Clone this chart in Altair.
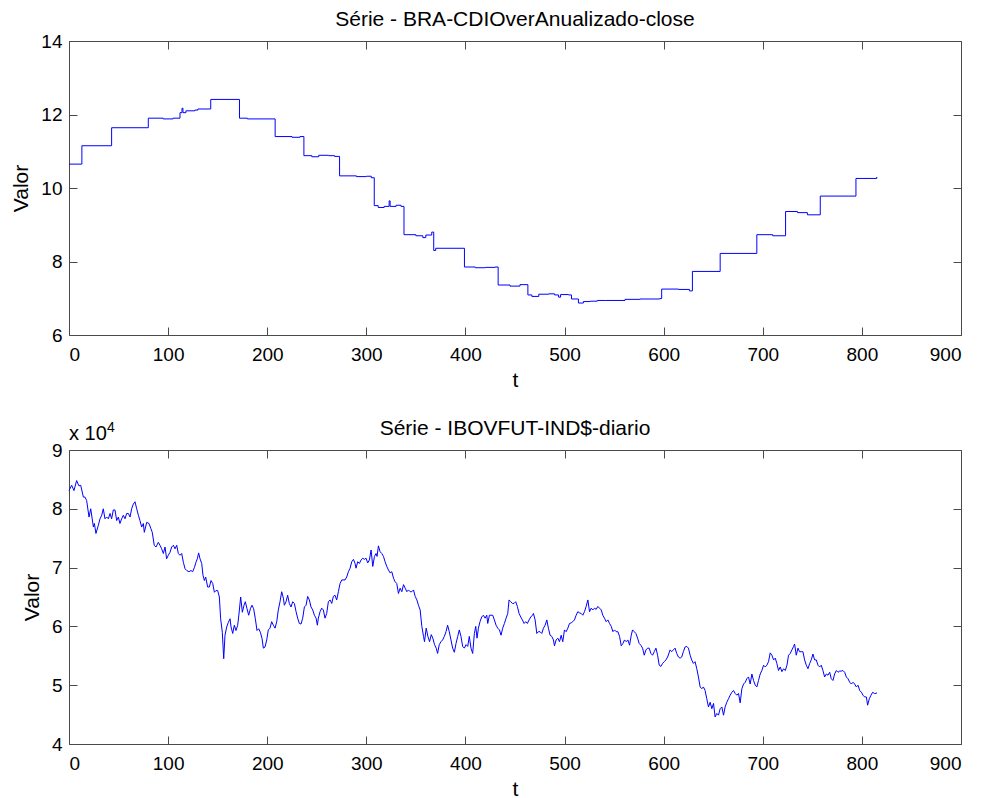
import altair as alt
import pandas as pd

# ---- data ----
# Top panel: BRA-CDIOverAnualizado-close, value changes (t, value), drawn as steps
cdi_points = [
    (0, 10.65), (13, 11.15), (43, 11.64), (80, 11.90), (95, 11.88), (105, 11.90),
    (112, 12.05), (114, 12.17), (115, 12.05), (118, 12.10), (127, 12.12), (130, 12.15),
    (143, 12.41), (172, 11.90), (180, 11.88), (208, 11.40), (225, 11.38), (233, 11.40),
    (237, 10.88), (245, 10.85), (252, 10.89), (262, 10.88), (268, 10.86), (273, 10.33),
    (290, 10.31), (300, 10.32), (305, 10.28), (308, 9.52), (312, 9.47), (318, 9.50),
    (323, 9.65), (324, 9.50), (330, 9.53), (335, 9.50), (338, 8.73), (350, 8.70),
    (357, 8.65), (360, 8.72), (366, 8.80), (368, 8.30), (370, 8.36), (399, 7.85),
    (410, 7.83), (420, 7.84), (430, 7.85), (433, 7.36), (445, 7.33), (455, 7.37),
    (463, 7.09), (467, 7.05), (474, 7.11), (484, 7.12), (490, 7.09), (494, 7.03),
    (496, 7.10), (504, 7.09), (507, 6.98), (514, 6.87), (519, 6.91), (526, 6.92),
    (533, 6.94), (541, 6.94), (561, 6.97), (576, 6.98), (596, 6.99), (598, 7.25),
    (615, 7.24), (626, 7.20), (629, 7.73), (657, 8.22), (694, 8.73), (710, 8.70),
    (723, 9.36), (735, 9.33), (745, 9.27), (758, 9.78), (794, 10.26), (815, 10.30),
]

# Bottom panel: IBOVFUT-IND$-diario, values in units of 10^4
ibov_points = [
    (0, 8.31), (2.7, 8.40), (5, 8.31), (7.7, 8.48), (10, 8.39), (11.8, 8.40), (14.5, 8.20),
    (16.1, 8.20), (17.8, 8.14), (20.2, 7.86), (21.9, 8.00), (24.6, 7.69), (25.6, 7.75),
    (27.2, 7.58), (29.6, 7.72), (31.3, 7.83), (33, 7.89), (34.6, 8.00), (36.3, 7.83),
    (38, 7.86), (39.7, 7.83), (41.4, 7.92), (43, 7.83), (44.7, 7.98), (46.4, 7.98),
    (48.1, 7.80), (49.8, 7.86), (51.4, 7.75), (53.1, 7.83), (54.8, 7.89), (56.5, 7.83),
    (58.2, 7.92), (59.9, 7.92), (61.6, 7.86), (63.2, 8.00), (64.9, 8.08), (66.6, 8.12),
    (68.3, 8.00), (70, 7.89), (71.6, 7.80), (73.3, 7.69), (75, 7.75), (76, 7.60),
    (78.4, 7.77), (80.7, 7.75), (82.7, 7.66), (84, 7.60), (86, 7.38), (87.8, 7.35),
    (90.1, 7.43), (91.8, 7.38), (93.5, 7.32), (95.2, 7.24), (96.9, 7.35), (98.5, 7.15),
    (100.2, 7.21), (101.9, 7.26), (103.6, 7.35), (105.3, 7.38), (107, 7.32), (108.7, 7.38),
    (110.3, 7.24), (112, 7.21), (113.7, 7.24), (115.4, 7.09), (117.1, 6.98), (118.8, 6.95),
    (121, 6.93), (123, 6.95), (124.8, 6.93), (126.5, 7.00), (128.1, 7.09), (129.5, 7.15),
    (130.8, 7.25), (132.2, 7.15), (133.9, 7.07), (135.2, 6.87), (136.6, 6.78), (137.9, 6.84),
    (139.9, 6.67), (141.6, 6.67), (143.3, 6.78), (145, 6.73), (146.7, 6.58), (148.3, 6.61),
    (150, 6.61), (151.7, 6.50), (153, 6.13), (154.7, 5.90), (156.1, 5.45), (157.4, 5.85),
    (159.1, 5.99), (160.8, 6.07), (162.5, 6.13), (163.5, 5.99), (165.2, 5.88), (166.8, 6.02),
    (168.5, 5.93), (170.2, 6.02), (171.5, 6.21), (173.2, 6.50), (174.9, 6.24), (176.6, 6.36),
    (177.9, 6.42), (179.6, 6.30), (181.3, 6.19), (183, 6.30), (184.6, 6.36), (186.3, 6.30),
    (188, 6.13), (189.7, 5.93), (191.4, 5.96), (193.1, 5.90), (194.8, 5.79), (196.1, 5.63),
    (197.8, 5.65), (199.5, 5.77), (201.1, 5.94), (202.8, 5.97), (204.5, 6.08), (206.2, 6.02),
    (207.9, 5.97), (209.6, 6.08), (211.2, 6.28), (212.9, 6.42), (214.6, 6.59), (216.3, 6.48),
    (217.3, 6.36), (219, 6.42), (220.6, 6.53), (222.3, 6.39), (224, 6.33), (225.7, 6.42),
    (227.4, 6.39), (229.1, 6.25), (230.7, 6.14), (232.4, 6.05), (234.1, 6.04), (235.8, 6.14),
    (237.5, 6.33), (239.2, 6.36), (240.8, 6.51), (242.5, 6.45), (244.2, 6.33), (245.9, 6.28),
    (247.6, 6.19), (249.3, 6.14), (250.6, 6.02), (251.6, 6.14), (253.3, 6.25), (255, 6.31),
    (256.6, 6.28), (258.3, 6.14), (260, 6.22), (261.7, 6.42), (263.4, 6.45), (265.1, 6.39),
    (266.7, 6.51), (268.4, 6.53), (270.1, 6.45), (271.8, 6.59), (273.5, 6.73), (275.2, 6.79),
    (278.5, 6.79), (280.2, 6.84), (281.9, 6.93), (283.6, 6.99), (285.3, 7.10), (287, 7.14),
    (288.6, 7.07), (289.6, 6.99), (291.3, 7.10), (293, 7.07), (294.7, 7.13), (296.4, 7.16),
    (298, 7.14), (299.7, 7.16), (301.4, 7.08), (303.1, 7.13), (304.8, 7.30), (306.5, 7.02),
    (308.2, 7.19), (309.8, 7.24), (310.8, 7.19), (312.2, 7.37), (313.9, 7.27), (315.6, 7.24),
    (317.3, 7.19), (318.9, 7.10), (320.6, 7.02), (322.3, 6.96), (324, 6.91), (325.7, 6.93),
    (327.4, 6.82), (329, 6.76), (330.7, 6.73), (332.4, 6.56), (334.1, 6.65), (335.8, 6.59),
    (337.5, 6.71), (339.2, 6.65), (340.9, 6.59), (342.5, 6.62), (344.2, 6.59), (345.9, 6.59),
    (347.6, 6.62), (349.3, 6.51), (351, 6.45), (352.6, 6.36), (354.3, 6.28), (356, 6.00),
    (357.7, 5.83), (358.7, 5.74), (360.4, 5.97), (362.1, 5.83), (363.8, 5.74), (365.5, 5.86),
    (367.1, 5.80), (368.8, 5.69), (370.5, 5.63), (371.9, 5.54), (373.6, 5.69), (375.3, 5.74),
    (377, 5.77), (378.7, 5.83), (380.4, 5.91), (382, 6.02), (383.7, 5.91), (385.4, 5.77),
    (387.1, 5.63), (388.8, 5.56), (390.5, 5.71), (392.2, 5.83), (393.8, 5.94), (395.5, 5.83),
    (397.2, 5.66), (398.9, 5.63), (400.6, 5.69), (402.3, 5.66), (403.9, 5.83), (405.6, 5.63),
    (407.3, 5.54), (409, 5.88), (410.4, 6.00), (411.7, 5.80), (413.1, 5.97), (414.7, 6.08),
    (416.4, 6.16), (418.1, 6.19), (419.8, 6.14), (421.5, 6.19), (422.5, 6.05), (424.2, 6.19),
    (425.8, 6.19), (427.5, 6.19), (429.2, 6.11), (430.9, 6.02), (432.6, 5.97), (434.3, 5.94),
    (435.9, 5.85), (437.6, 5.97), (439.3, 6.05), (441, 6.14), (442.7, 6.22), (444, 6.45),
    (445.7, 6.42), (447.4, 6.39), (449, 6.39), (450.7, 6.42), (452.4, 6.34), (454.1, 6.22),
    (455.8, 6.16), (457.5, 6.11), (459.2, 6.05), (460.8, 6.08), (462.5, 6.05), (464.2, 6.11),
    (465.9, 6.16), (467.6, 6.19), (468.6, 6.22), (470.3, 6.11), (472, 5.88), (473.6, 5.91),
    (475.3, 5.91), (477, 5.88), (478.7, 5.97), (480.4, 6.02), (482.1, 6.11), (483.7, 5.97),
    (485.4, 5.85), (487.1, 5.83), (488.8, 5.77), (489.8, 5.67), (491.5, 5.77), (493.2, 5.80),
    (494.9, 5.74), (496.6, 5.85), (498.2, 5.74), (499.9, 5.94), (501.6, 5.91), (503.3, 5.97),
    (505, 6.05), (506.7, 6.06), (508.3, 6.08), (510, 6.11), (511.7, 6.19), (513.4, 6.25),
    (515.1, 6.23), (516.8, 6.22), (518.4, 6.19), (520.1, 6.25), (521.8, 6.34), (523.5, 6.45),
    (525.2, 6.25), (526.9, 6.31), (528.5, 6.28), (530.2, 6.31), (531.9, 6.29), (533.6, 6.34),
    (535.3, 6.31), (537, 6.28), (538.6, 6.19), (540.3, 6.14), (542, 6.08), (543.7, 6.11),
    (545.4, 6.05), (547.1, 6.00), (548.8, 5.91), (550.4, 5.94), (552.1, 5.91), (553.8, 5.91),
    (555.5, 5.83), (557.2, 5.67), (558.9, 5.71), (560.5, 5.77), (562.2, 5.74), (563.9, 5.77),
    (565.6, 5.68), (567.3, 5.85), (568.6, 5.94), (570.3, 5.91), (572, 5.88), (573.7, 5.80),
    (575.3, 5.71), (577, 5.68), (578.7, 5.63), (580.4, 5.51), (582.1, 5.60), (583.8, 5.63),
    (585.4, 5.63), (587.1, 5.54), (588.8, 5.51), (590.5, 5.57), (592.2, 5.63), (593.9, 5.51),
    (595.5, 5.34), (597.2, 5.32), (598.9, 5.37), (600.6, 5.40), (602.3, 5.43), (604, 5.48),
    (606.5, 5.60), (608.1, 5.57), (609.8, 5.60), (611.5, 5.63), (613.2, 5.54), (614.9, 5.48),
    (616.6, 5.46), (618.2, 5.48), (619.9, 5.57), (621.6, 5.65), (623.3, 5.66), (625, 5.63),
    (626.7, 5.51), (628.3, 5.43), (630, 5.37), (631.7, 5.40), (633.4, 5.28), (635.1, 5.14),
    (636.8, 4.97), (638.5, 4.94), (640.1, 4.97), (641.8, 4.91), (643.5, 4.77), (645.2, 4.63),
    (646.9, 4.71), (648.6, 4.60), (650.3, 4.69), (651.9, 4.46), (653.6, 4.52), (655.3, 4.49),
    (657, 4.60), (658.7, 4.63), (660.4, 4.49), (662, 4.63), (663.7, 4.71), (665.4, 4.77),
    (667.1, 4.83), (668.8, 4.88), (670.5, 4.91), (672.1, 4.86), (673.8, 4.83), (675.5, 4.86),
    (677.2, 4.70), (678.9, 4.94), (680.6, 5.02), (682.3, 5.05), (683.9, 5.11), (685.6, 5.14),
    (687.3, 5.02), (689, 5.19), (690.7, 5.08), (692.4, 5.00), (694, 4.97), (695.7, 5.08),
    (697.4, 5.19), (699.1, 5.25), (700.8, 5.34), (702.5, 5.31), (704.1, 5.34), (705.8, 5.40),
    (707.5, 5.55), (709.2, 5.51), (710.9, 5.43), (712.6, 5.46), (714.2, 5.37), (715.9, 5.25),
    (717.6, 5.31), (719.3, 5.23), (721, 5.28), (722.7, 5.25), (724.4, 5.34), (726, 5.51),
    (727.7, 5.54), (729.4, 5.60), (731.1, 5.66), (732.1, 5.70), (733.8, 5.51), (735.5, 5.63),
    (737.1, 5.57), (738.8, 5.57), (740.5, 5.57), (742.2, 5.43), (743.9, 5.34), (745.6, 5.28),
    (747.3, 5.37), (748.9, 5.43), (750.6, 5.53), (752.3, 5.43), (754, 5.43), (755.7, 5.34),
    (757.4, 5.31), (759, 5.34), (760.7, 5.25), (762.4, 5.14), (764.1, 5.19), (765.8, 5.17),
    (767.5, 5.22), (769.1, 5.11), (770.8, 5.08), (772.5, 5.19), (774.2, 5.25), (775.9, 5.22),
    (777.6, 5.24), (779.2, 5.24), (780.9, 5.25), (782.6, 5.22), (784.3, 5.14), (786, 5.11),
    (787.7, 5.05), (789.4, 5.02), (791, 5.05), (792.7, 5.02), (794.4, 4.97), (796.1, 5.00),
    (797.8, 4.91), (799.5, 4.88), (801.1, 4.83), (802.8, 4.80), (804.5, 4.80), (805.8, 4.66),
    (807.5, 4.77), (809.2, 4.83), (810.9, 4.88), (812.6, 4.86), (814.2, 4.86), (815.2, 4.87),
]

x_ticks = [0, 100, 200, 300, 400, 500, 600, 700, 800, 900]
cdi_y_ticks = [6, 8, 10, 12, 14]
ibov_y_ticks = [4, 5, 6, 7, 8, 9]

title_top = "Série - BRA-CDIOverAnualizado-close"
title_bottom = "Série - IBOVFUT-IND$-diario"

# ---- styling ----
FONT = "Liberation Sans"
AXIS_COLOR = "#4a4a4a"
LINE_COLOR = "#0000ff"
TICK = 8
W, H = 892, 294

cdi_df = pd.DataFrame(cdi_points, columns=["t", "v"])
ibov_df = pd.DataFrame(ibov_points, columns=["t", "v"])


def panel(df, title, ydomain, yticks, interp, title_offset, extra=None):
    xs = alt.Scale(domain=[0, 900], nice=False, zero=False)
    ys = alt.Scale(domain=ydomain, nice=False, zero=False)
    common = dict(domain=False, grid=False, tickSize=TICK, offset=-TICK,
                  tickColor=AXIS_COLOR, tickWidth=1,
                  labelFont=FONT, labelFontSize=19, labelColor="black",
                  titleFont=FONT, titleFontSize=21, titleColor="black",
                  titleFontWeight="normal")
    line = alt.Chart(df).mark_line(color=LINE_COLOR, strokeWidth=1,
                                   interpolate=interp).encode(
        x=alt.X("t:Q", scale=xs,
                axis=alt.Axis(values=x_ticks, orient="bottom", title="t",
                              labelPadding=10, titlePadding=5, format="d",
                              **common)),
        y=alt.Y("v:Q", scale=ys,
                axis=alt.Axis(values=yticks, orient="left", title="Valor",
                              labelPadding=7, titlePadding=9, format="d",
                              **common)),
    )
    frame = alt.Chart(df).mark_line(opacity=0).encode(
        x=alt.X("t:Q", scale=xs,
                axis=alt.Axis(values=x_ticks, orient="top", labels=False,
                              title=None, **common)),
        y=alt.Y("v:Q", scale=ys,
                axis=alt.Axis(values=yticks, orient="right", labels=False,
                              title=None, **common)),
    )
    layers = [line, frame]
    if extra is not None:
        layers += extra
    return alt.layer(*layers).resolve_axis(
        x="independent", y="independent"
    ).properties(
        width=W, height=H,
        title=alt.TitleParams(title, fontSize=21, fontWeight="normal",
                              font=FONT, color="black", baseline="alphabetic",
                              offset=title_offset, anchor="middle"),
    )


exp_df = pd.DataFrame({"label": ["x 10"], "sup": ["4"]})
exponent = [
    alt.Chart(exp_df).mark_text(align="left", baseline="alphabetic", fontSize=20,
                                font=FONT, color="black").encode(
        text="label:N", x=alt.value(0), y=alt.value(-10)),
    alt.Chart(exp_df).mark_text(align="left", baseline="alphabetic", fontSize=14,
                                font=FONT, color="black").encode(
        text="sup:N", x=alt.value(38), y=alt.value(-18)),
]

top = panel(cdi_df, title_top, [6, 14], cdi_y_ticks, "step-after", -15)
bottom = panel(ibov_df, title_bottom, [4, 9], ibov_y_ticks, "linear", -35, exponent)

chart = alt.vconcat(top, bottom, spacing=26).properties(
    padding={"left": 2, "top": 0, "right": 5, "bottom": 0},
    background="white",
).configure(
    font=FONT
).configure_view(
    stroke=AXIS_COLOR, strokeWidth=1
)

chart.save("out.html", embed_options={"renderer": "svg", "actions": False})
